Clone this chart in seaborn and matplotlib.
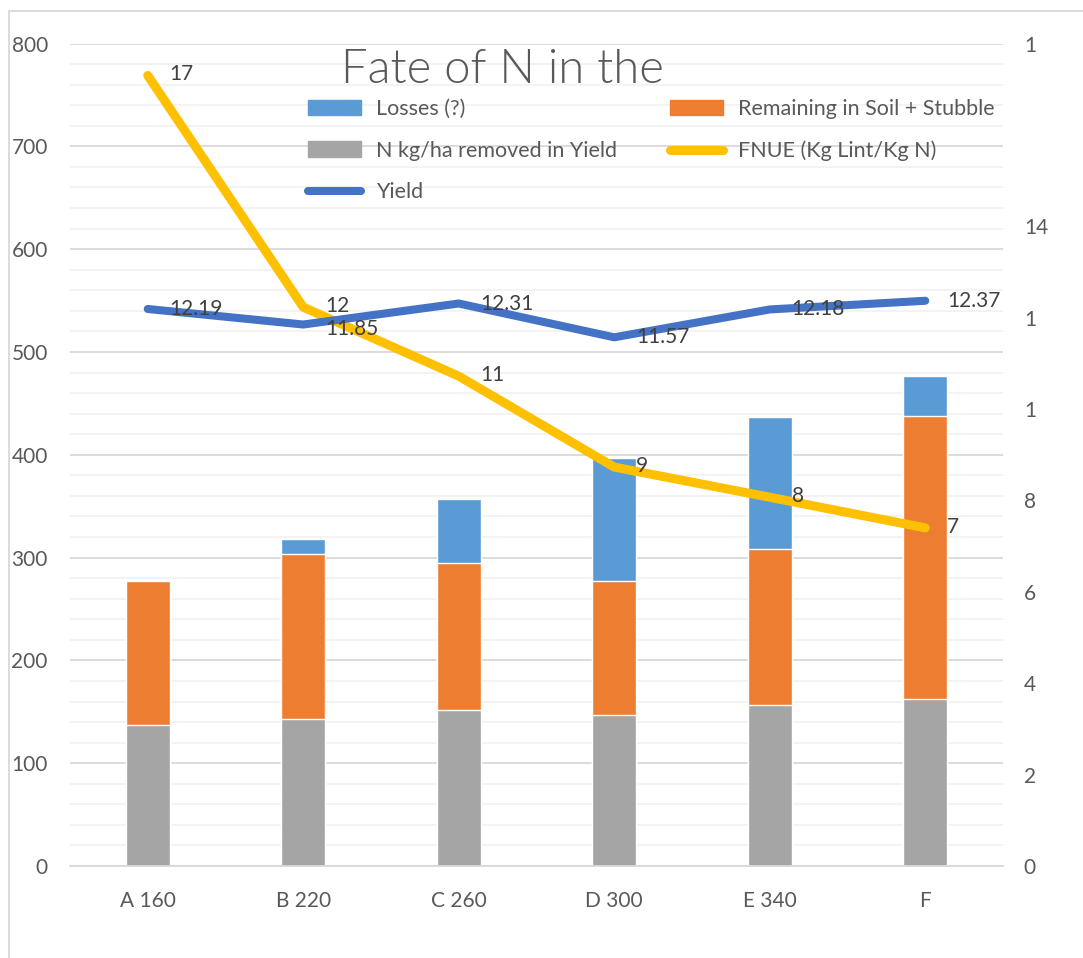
import matplotlib
matplotlib.use("Agg")
import matplotlib.pyplot as plt
import numpy as np
import pandas as pd
import seaborn as sns
from matplotlib.lines import Line2D
from matplotlib.patches import Patch, Rectangle
from matplotlib.ticker import MultipleLocator, FixedLocator

# values
treatments = ["A 160", "B 220", "C 260", "D 300", "E 340", "F"]
n_removed = [137, 143, 152, 147, 157, 162]
remaining = [140, 160, 143, 130, 151, 276]
losses = [0, 15, 62, 120, 129, 39]
fnue = [17.3, 12.23, 10.72, 8.73, 8.07, 7.40]
yield_vals = [12.19, 11.85, 12.31, 11.57, 12.18, 12.37]

right_ticks = [0, 2, 4, 6, 8, 10, 12, 14, 16, 18]
right_labels = ["0", "2", "4", "6", "8", "1", "1", "14", "", "1"]

BLUE = "#5B9BD5"
ORANGE = "#ED7D31"
GRAY = "#A5A5A5"
GOLD = "#FFC000"
NAVY = "#4472C4"
MAJOR = "#D9D9D9"
MINOR = "#F2F2F2"
TXT = "#595959"

df = pd.DataFrame({
    "treatment": treatments,
    "removed": n_removed,
    "remaining": remaining,
    "losses": losses,
    "fnue": fnue,
    "yield": yield_vals,
})
df["soil_top"] = df["removed"] + df["remaining"]
df["total"] = df["soil_top"] + df["losses"]

sns.set_style("white")
plt.rcParams["font.family"] = ["Lato", "DejaVu Sans"]
plt.rcParams["font.size"] = 15

fig = plt.figure(figsize=(10.83, 9.58), dpi=100)
ax = fig.add_axes([70 / 1083, 1 - 866 / 958, 933 / 1083, (866 - 43.5) / 958])

# stacked bars: draw cumulative totals from the top down
sns.barplot(data=df, x="treatment", y="total", color=BLUE, width=0.28, saturation=1, ax=ax, zorder=2)
sns.barplot(data=df, x="treatment", y="soil_top", color=ORANGE, width=0.28, saturation=1, ax=ax, zorder=2)
sns.barplot(data=df, x="treatment", y="removed", color=GRAY, width=0.28, saturation=1, ax=ax, zorder=2)

ax.set_ylim(0, 800)
ax.set_yticks(range(0, 801, 100))
ax.yaxis.set_minor_locator(MultipleLocator(20))
ax.grid(axis="y", which="major", color=MAJOR, lw=1.3)
ax.grid(axis="y", which="minor", color=MINOR, lw=1.3)
ax.set_axisbelow(True)
ax.tick_params(axis="y", which="both", length=0, pad=16, labelcolor=TXT, labelsize=15)
ax.xaxis.set_minor_locator(FixedLocator(np.arange(-0.5, len(treatments), 1.0)))
ax.tick_params(axis="x", which="major", length=0, pad=18, labelcolor=TXT, labelsize=15)
ax.tick_params(axis="x", which="minor", length=7, width=1.3, color=MAJOR, direction="out")
for side in ["top", "right", "left"]:
    ax.spines[side].set_visible(False)
ax.spines["bottom"].set_color(MAJOR)
ax.spines["bottom"].set_linewidth(1.3)
ax.set_xlabel("")
ax.set_ylabel("")

ax2 = ax.twinx()
sns.lineplot(x=df.index, y=df["fnue"], ax=ax2, color=GOLD, lw=6.5, solid_capstyle="round", zorder=3)
sns.lineplot(x=df.index, y=df["yield"], ax=ax2, color=NAVY, lw=5.8, solid_capstyle="round", zorder=4)
ax2.set_ylim(0, 18)
ax2.set_yticks(right_ticks)
ax2.set_yticklabels(right_labels)
ax2.tick_params(axis="y", length=0, pad=15, labelcolor=TXT, labelsize=15)
for side in ax2.spines:
    ax2.spines[side].set_visible(False)
ax2.set_xlabel("")
ax2.set_ylabel("")
ax.set_xlim(-0.5, len(treatments) - 0.5)

for i, v in enumerate(df["fnue"]):
    ax2.annotate(f"{v:.0f}", (i, v), xytext=(22, 1), textcoords="offset pixels",
                 ha="left", va="center", fontsize=15, color="#404040", zorder=5)
for i, v in enumerate(df["yield"]):
    dy = -4 if i == 1 else 0
    ax2.annotate(f"{v:.2f}", (i, v), xytext=(22, dy), textcoords="offset pixels",
                 ha="left", va="center", fontsize=15, color="#404040", zorder=5)

handles = [
    Patch(color=BLUE, label="Losses (?)"),
    Patch(color=GRAY, label="N kg/ha removed in Yield"),
    Line2D([], [], color=NAVY, lw=5.8, solid_capstyle="round", label="Yield"),
    Patch(color=ORANGE, label="Remaining in Soil + Stubble"),
    Line2D([], [], color=GOLD, lw=6.5, solid_capstyle="round", label="FNUE (Kg Lint/Kg N)"),
]
ax2.legend(handles=handles, ncol=2, frameon=False, loc="upper left",
           bbox_to_anchor=(308 / 1083, 1 - 99 / 958), bbox_transform=fig.transFigure,
           borderpad=0, borderaxespad=0, handlelength=2.45, handletextpad=0.72,
           columnspacing=2.45, labelspacing=1.0, fontsize=15.5, labelcolor=TXT)

fig.text(502 / 1083, 1 - 83 / 958, "Fate of N in the", ha="center", va="baseline",
         fontsize=34, fontweight=300, color=TXT)

fig.patches.append(Rectangle((9 / 1083, -0.05), 1.1, 1.05 - 11 / 958, transform=fig.transFigure,
                             fill=False, edgecolor=MAJOR, lw=1.3))

fig.savefig("out.png", dpi=100)
